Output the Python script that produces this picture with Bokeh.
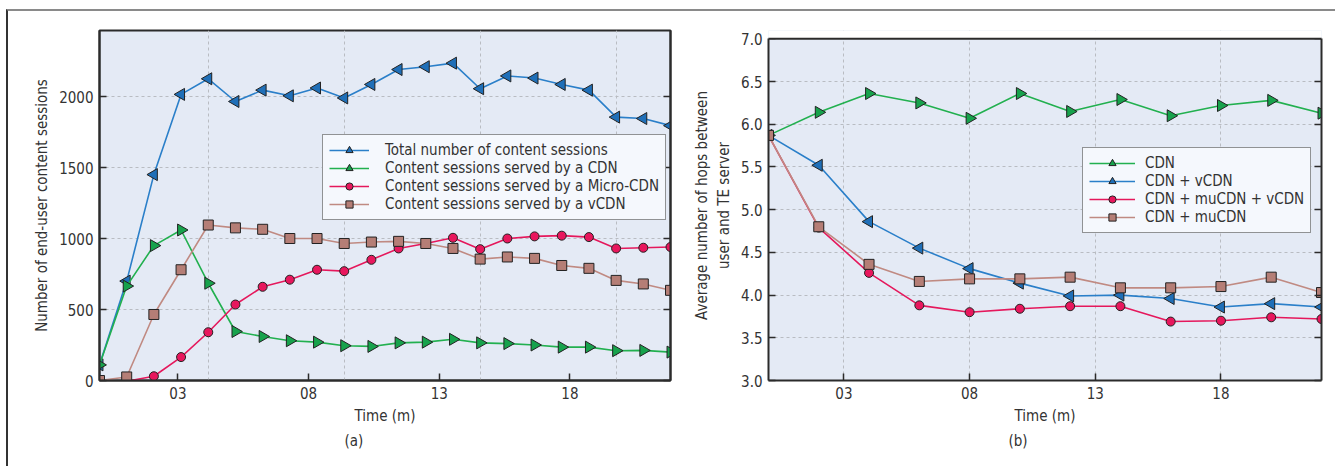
import math
from bokeh.plotting import figure
from bokeh.models import (Range1d, LinearAxis, FixedTicker, Grid, Legend, LegendItem,
                          Title, PrintfTickFormatter, BoxAnnotation, Span)
from bokeh.layouts import row
from bokeh.embed import file_html
from bokeh.resources import INLINE

FONT = "DejaVu Sans Condensed, Liberation Sans, sans-serif"
TXT = "#333333"
AX = "#2b2b2b"

# ---------------- Panel (a) data ----------------
a_sample = list(range(22))
a_total = [110, 700, 1450, 2015, 2125, 1965, 2045, 2005, 2060, 1990, 2085, 2190,
           2210, 2235, 2055, 2145, 2130, 2085, 2045, 1855, 1845, 1795]
a_cdn = [110, 665, 950, 1060, 685, 345, 310, 280, 270, 245, 240, 265,
         270, 290, 265, 260, 250, 235, 235, 210, 212, 200]
a_micro = [0, -5, 30, 165, 340, 535, 660, 710, 780, 770, 850, 930,
           965, 1005, 925, 1000, 1015, 1020, 1010, 930, 935, 940]
a_vcdn = [0, 25, 465, 780, 1095, 1075, 1065, 1000, 1000, 965, 975, 980,
          965, 930, 855, 870, 860, 810, 790, 705, 680, 635]
a_y_ticks = [0, 500, 1000, 1500, 2000]
a_grid_samples = [4, 9, 14, 19]
a_labels = ["Total number of content sessions",
            "Content sessions served by a CDN",
            "Content sessions served by a Micro-CDN",
            "Content sessions served by a vCDN"]

# ---------------- Panel (b) data ----------------
b_time = [0, 2, 4, 6, 8, 10, 12, 14, 16, 18, 20, 22]
b_cdn = [5.87, 6.14, 6.36, 6.25, 6.07, 6.36, 6.15, 6.29, 6.10, 6.22, 6.28, 6.13]
b_cdn_v = [5.87, 5.52, 4.86, 4.55, 4.31, 4.14, 3.99, 4.00, 3.96, 3.86, 3.90, 3.86]
b_cdn_mu_v = [5.87, 4.79, 4.26, 3.88, 3.80, 3.84, 3.87, 3.87, 3.69, 3.70, 3.74, 3.72]
b_cdn_mu = [5.87, 4.80, 4.36, 4.16, 4.19, 4.19, 4.21, 4.085, 4.085, 4.10, 4.21, 4.03]
b_y_ticks = [3.0, 3.5, 4.0, 4.5, 5.0, 5.5, 6.0, 6.5, 7.0]
b_y_min, b_y_max = 3.0, 7.0
b_labels = ["CDN", "CDN + vCDN", "CDN + muCDN + vCDN", "CDN + muCDN"]

time_ticks = [3, 8, 13, 18]
time_tick_labels = ["03", "08", "13", "18"]

# series styles: (line colour, marker, angle, size, fill)
S_BLUE = ("#2a7fc9", "triangle", math.pi / 2, 12, "#1f6fb8")
S_GREEN = ("#22b04f", "triangle", -math.pi / 2, 12, "#17a24c")
S_RED = ("#e5185c", "circle", 0, 9, "#e8175d")
S_BROWN = ("#c08a82", "square", 0, 10, "#b57e76")


def style_axis(ax, show_labels=True):
    ax.axis_line_color = AX
    ax.axis_line_width = 2
    ax.major_tick_in = 7
    ax.major_tick_out = 0
    ax.minor_tick_out = 0
    ax.minor_tick_in = 0
    ax.major_tick_line_color = AX
    ax.major_tick_line_width = 1.5
    ax.minor_tick_line_color = None
    ax.major_label_text_font = FONT
    ax.major_label_text_color = TXT
    ax.major_label_standoff = 6
    ax.axis_label_text_font = FONT
    ax.axis_label_text_font_style = "normal"
    ax.axis_label_text_font_size = "15px"
    ax.axis_label_text_color = TXT
    ax.axis_label_standoff = 5
    ax.major_label_text_font_size = "15px"
    if not show_labels:
        ax.major_label_overrides = {t: "" for t in ax.ticker.ticks}
        ax.major_label_text_color = None
        ax.major_label_text_font_size = "6px"
        ax.major_label_standoff = 0


def base_fig(width, height, xr, yr, mbl, mbr, mbt, mbb):
    p = figure(width=width, height=height, x_range=xr, y_range=yr,
               title_location=None,
               x_axis_type=None, y_axis_type=None,
               output_backend="svg", toolbar_location=None,
               min_border_left=mbl, min_border_right=mbr,
               min_border_top=mbt, min_border_bottom=mbb)
    p.background_fill_color = "#e4eaf5"
    p.border_fill_color = "white"
    p.outline_line_color = AX
    p.outline_line_width = 2
    return p


def add_series(p, x, y, st):
    lc, mk, ang, sz, fc = st
    ln = p.line(x, y, line_color=lc, line_width=1.6)
    sc = p.scatter(x, y, marker=mk, angle=ang, size=sz, fill_color=fc,
                   line_color="#222222", line_width=1)
    return [ln, sc]


def add_grid(p, xt, yt):
    for dim, t in ((0, xt), (1, yt)):
        g = Grid(dimension=dim, ticker=FixedTicker(ticks=t))
        g.grid_line_color = "#b9bcc2"
        g.grid_line_dash = "3 3"
        g.grid_line_width = 1
        p.add_layout(g)


def make_legend(p, items, loc, glyph_w, standoff):
    lg = Legend(items=items, location=loc)
    lg.label_text_font = FONT
    lg.label_text_font_size = "15px"
    lg.label_text_color = TXT
    lg.glyph_width = glyph_w
    lg.glyph_height = 18
    lg.label_height = 18
    lg.spacing = 0
    lg.padding = 6
    lg.margin = 0
    lg.label_standoff = standoff
    lg.border_line_color = AX
    lg.border_line_width = 1.5
    lg.background_fill_color = "#f5f8fd"
    lg.background_fill_alpha = 1
    p.add_layout(lg)


def caption(p, text, offset):
    t = Title(text=text, align="left", offset=offset, text_font=FONT,
              text_font_size="15px", text_font_style="normal", text_color=TXT,
              standoff=4)
    p.add_layout(t, "below")


# ---------------- Figure (a) ----------------
pa = base_fig(682, 455, Range1d(0, 21), Range1d(0, 2465), 91, 20, 19, 86)
pa.extra_x_ranges = {"time": Range1d(0, 21.85)}

ax_b = LinearAxis(x_range_name="time", ticker=FixedTicker(ticks=time_ticks),
                  major_label_overrides=dict(zip(time_ticks, time_tick_labels)),
                  axis_label="Time (m)")
style_axis(ax_b)
ax_l = LinearAxis(ticker=FixedTicker(ticks=a_y_ticks),
                  axis_label="Number of end-user content sessions")
style_axis(ax_l)
ax_r = LinearAxis(ticker=FixedTicker(ticks=a_y_ticks))
style_axis(ax_r, False)
pa.add_layout(ax_b, "below")
pa.add_layout(ax_l, "left")
pa.add_layout(ax_r, "right")
add_grid(pa, a_grid_samples, a_y_ticks)

ra = [add_series(pa, a_sample, a_total, S_BLUE),
      add_series(pa, a_sample, a_cdn, S_GREEN),
      add_series(pa, a_sample, a_micro, S_RED),
      add_series(pa, a_sample, a_vcdn, S_BROWN)]
make_legend(pa, [LegendItem(label=l, renderers=r) for l, r in zip(a_labels, ra)],
            (223, 160), 40, 16)
caption(pa, "(a)", 245)

# ---------------- Figure (b) ----------------
# frames of a row share their top edge; panel (b)'s box starts lower, so the
# range reaches slightly above 7.0 and the strip above 7.0 is masked white.
pb = base_fig(645, 455, Range1d(b_y_min, b_y_max + 0.098), Range1d(0, 1), 73, 14, 19, 86)
pb.y_range = Range1d(b_y_min, b_y_max + 0.098)
pb.x_range = Range1d(0, 22)
pb.outline_line_color = None
bx_b = LinearAxis(ticker=FixedTicker(ticks=time_ticks),
                  major_label_overrides=dict(zip(time_ticks, time_tick_labels)),
                  axis_label="Time (m)")
style_axis(bx_b)
bx_l = LinearAxis(ticker=FixedTicker(ticks=b_y_ticks), bounds=(b_y_min, b_y_max),
                  formatter=PrintfTickFormatter(format="%.1f"),
                  axis_label="Average number of hops between\nuser and TE server")
style_axis(bx_l)
bx_r = LinearAxis(ticker=FixedTicker(ticks=b_y_ticks), bounds=(b_y_min, b_y_max))
style_axis(bx_r, False)
pb.add_layout(bx_b, "below")
pb.add_layout(bx_l, "left")
pb.add_layout(bx_r, "right")
add_grid(pb, time_ticks, b_y_ticks)

rb = [add_series(pb, b_time, b_cdn, S_GREEN),
      add_series(pb, b_time, b_cdn_v, S_BLUE),
      add_series(pb, b_time, b_cdn_mu_v, S_RED),
      add_series(pb, b_time, b_cdn_mu, S_BROWN)]
pb.add_layout(BoxAnnotation(bottom=b_y_max, fill_color="white", fill_alpha=1,
                            line_color=None))
pb.add_layout(Span(location=b_y_max, dimension="width", line_color=AX, line_width=2))
make_legend(pb, [LegendItem(label=l, renderers=r) for l, r in zip(b_labels, rb)],
            (314, 147), 46, 10)
caption(pb, "(b)", 240)

layout = row(pa, pb, styles={"margin-left": "6px", "margin-top": "9px",
                             "border-left": "2px solid #333333",
                             "border-top": "2px solid #8a8a8a"})

open("out.html", "w").write(file_html(layout, INLINE))
